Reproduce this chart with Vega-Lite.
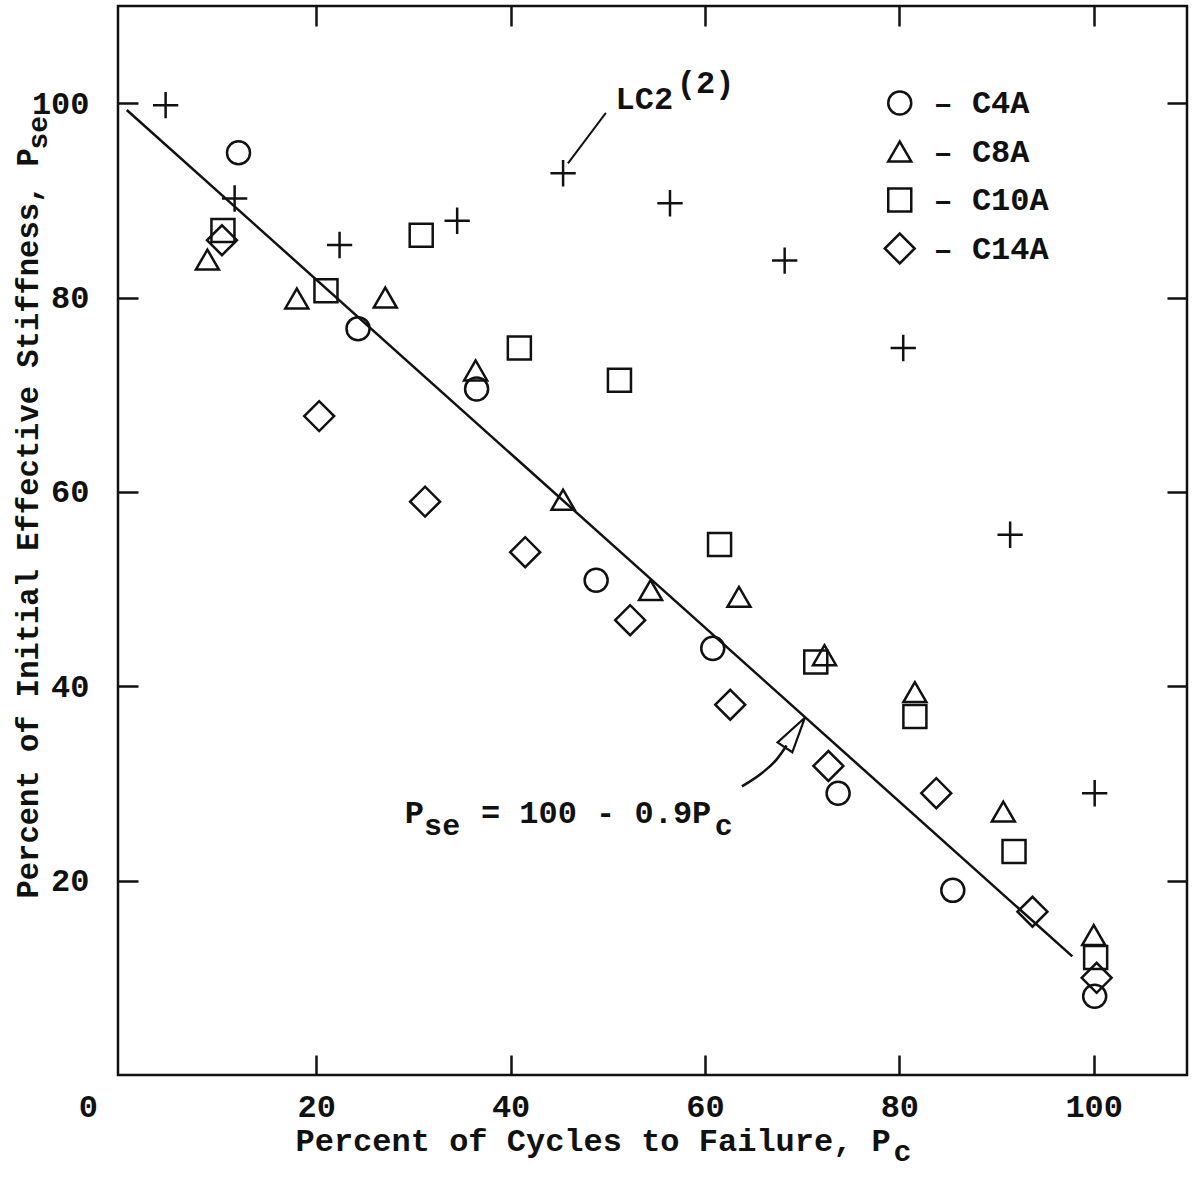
{
  "$schema": "https://vega.github.io/schema/vega-lite/v6.json",
  "width": 1069,
  "height": 1069,
  "autosize": {"type": "none"},
  "padding": {"left": 118, "top": 6, "right": 7, "bottom": 122},
  "background": "white",
  "datasets": {
    "specimens": [
      {"specimen": "C4A", "cycles": 12.0, "stiffness": 94.9},
      {"specimen": "C4A", "cycles": 24.3, "stiffness": 76.8},
      {"specimen": "C4A", "cycles": 36.5, "stiffness": 70.6},
      {"specimen": "C4A", "cycles": 48.8, "stiffness": 50.9},
      {"specimen": "C4A", "cycles": 60.8, "stiffness": 43.9},
      {"specimen": "C4A", "cycles": 73.7, "stiffness": 29.0},
      {"specimen": "C4A", "cycles": 85.5, "stiffness": 19.0},
      {"specimen": "C4A", "cycles": 100.1, "stiffness": 8.1},
      {"specimen": "C8A", "cycles": 8.8, "stiffness": 83.9},
      {"specimen": "C8A", "cycles": 18.0, "stiffness": 79.9},
      {"specimen": "C8A", "cycles": 27.1, "stiffness": 80.0},
      {"specimen": "C8A", "cycles": 36.4, "stiffness": 72.5},
      {"specimen": "C8A", "cycles": 45.4, "stiffness": 59.2},
      {"specimen": "C8A", "cycles": 54.4, "stiffness": 49.9},
      {"specimen": "C8A", "cycles": 63.5, "stiffness": 49.2},
      {"specimen": "C8A", "cycles": 72.3, "stiffness": 43.2},
      {"specimen": "C8A", "cycles": 81.6, "stiffness": 39.4},
      {"specimen": "C8A", "cycles": 90.7, "stiffness": 27.1},
      {"specimen": "C8A", "cycles": 100.0, "stiffness": 14.4},
      {"specimen": "C10A", "cycles": 10.4, "stiffness": 86.9},
      {"specimen": "C10A", "cycles": 21.0, "stiffness": 80.7},
      {"specimen": "C10A", "cycles": 30.8, "stiffness": 86.4},
      {"specimen": "C10A", "cycles": 40.9, "stiffness": 74.8},
      {"specimen": "C10A", "cycles": 51.2, "stiffness": 71.5},
      {"specimen": "C10A", "cycles": 61.5, "stiffness": 54.6},
      {"specimen": "C10A", "cycles": 71.4, "stiffness": 42.5},
      {"specimen": "C10A", "cycles": 81.6, "stiffness": 36.9},
      {"specimen": "C10A", "cycles": 91.8, "stiffness": 23.0},
      {"specimen": "C10A", "cycles": 100.2, "stiffness": 12.1},
      {"specimen": "C14A", "cycles": 10.3, "stiffness": 85.9},
      {"specimen": "C14A", "cycles": 20.3, "stiffness": 67.8},
      {"specimen": "C14A", "cycles": 31.2, "stiffness": 59.0},
      {"specimen": "C14A", "cycles": 41.5, "stiffness": 53.8},
      {"specimen": "C14A", "cycles": 52.3, "stiffness": 46.8},
      {"specimen": "C14A", "cycles": 62.6, "stiffness": 38.1},
      {"specimen": "C14A", "cycles": 72.7, "stiffness": 31.8},
      {"specimen": "C14A", "cycles": 83.8, "stiffness": 29.0},
      {"specimen": "C14A", "cycles": 93.7, "stiffness": 16.8},
      {"specimen": "C14A", "cycles": 100.3, "stiffness": 10.0}
    ],
    "lc2": [
      {"cycles": 4.5, "stiffness": 99.8},
      {"cycles": 11.6, "stiffness": 90.2},
      {"cycles": 22.4, "stiffness": 85.4},
      {"cycles": 34.5, "stiffness": 87.9},
      {"cycles": 45.4, "stiffness": 92.8},
      {"cycles": 56.4, "stiffness": 89.7},
      {"cycles": 68.2, "stiffness": 83.8},
      {"cycles": 80.4, "stiffness": 74.8},
      {"cycles": 91.4, "stiffness": 55.6},
      {"cycles": 100.1, "stiffness": 29.0}
    ],
    "fit": [
      {"cycles": 0.5, "stiffness": 99.3},
      {"cycles": 97.8, "stiffness": 12.2}
    ],
    "leader": [
      {"cycles": 49.8, "stiffness": 99.0},
      {"cycles": 45.9, "stiffness": 93.8}
    ],
    "arrow": [
      {"cycles": 63.8, "stiffness": 29.7},
      {"cycles": 65.9, "stiffness": 31.1},
      {"cycles": 67.4, "stiffness": 32.5},
      {"cycles": 68.4, "stiffness": 33.9}
    ],
    "one": [{}]
  },
  "config": {
    "view": {"stroke": "#111", "strokeWidth": 2.5},
    "font": "Liberation Mono",
    "axis": {
      "domain": false,
      "grid": false,
      "tickColor": "#111",
      "tickWidth": 2.5,
      "tickSize": -20,
      "labelFont": "Liberation Mono",
      "labelFontSize": 32,
      "labelFontWeight": "bold",
      "labelColor": "#111",
      "labelFlush": false,
      "labelOverlap": false,
      "labelBound": false,
      "titleFont": "Liberation Mono",
      "titleFontSize": 32,
      "titleFontWeight": "bold",
      "titleColor": "#111"
    },
    "legend": {"gridAlign": "all"},
    "text": {"font": "Liberation Mono", "fontSize": 32, "fontWeight": "bold", "color": "#111", "align": "left", "baseline": "alphabetic"}
  },
  "resolve": {"axis": {"x": "independent", "y": "independent"}},
  "layer": [
    {
      "data": {"name": "fit"},
      "mark": {"type": "line", "color": "#111", "strokeWidth": 2.5},
      "encoding": {
        "x": {
          "field": "cycles", "type": "quantitative",
          "scale": {"domain": [-0.4, 109.6], "nice": false, "zero": false},
          "axis": {
            "orient": "bottom", "values": [20, 40, 60, 80, 100], "labelPadding": 36.5,
            "title": "Percent of Cycles to Failure, P",
            "titleX": 177, "titleY": 75, "titleAlign": "left", "titleBaseline": "alphabetic", "titleAngle": 0
          }
        },
        "y": {
          "field": "stiffness", "type": "quantitative",
          "scale": {"domain": [0, 110], "nice": false, "zero": false},
          "axis": {
            "orient": "left", "values": [20, 40, 60, 80, 100], "labelPadding": 49,
            "title": "Percent of Initial Effective Stiffness, P",
            "titleX": -81, "titleY": 892, "titleAngle": 270, "titleAlign": "left", "titleBaseline": "alphabetic", "titleFontSize": 30.5
          }
        }
      }
    },
    {
      "data": {"name": "specimens"},
      "mark": {"type": "point", "filled": false, "size": 530, "strokeWidth": 2.5, "color": "#111", "opacity": 1},
      "encoding": {
        "x": {
          "field": "cycles", "type": "quantitative",
          "scale": {"domain": [-0.4, 109.6], "nice": false, "zero": false},
          "axis": {
            "orient": "top", "values": [20, 40, 60, 80, 100], "labels": false,
            "title": "c", "titleX": 775, "titleY": 1154, "titleAlign": "left", "titleBaseline": "alphabetic", "titleAngle": 0, "titleFontSize": 30
          }
        },
        "y": {
          "field": "stiffness", "type": "quantitative",
          "scale": {"domain": [0, 110], "nice": false, "zero": false},
          "axis": {
            "orient": "right", "values": [20, 40, 60, 80, 100], "labels": false,
            "title": "se", "titleX": -1141, "titleY": 143, "titleAngle": 270, "titleAlign": "left", "titleBaseline": "alphabetic", "titleFontSize": 28
          }
        },
        "shape": {
          "field": "specimen", "type": "nominal",
          "scale": {
            "domain": ["C4A", "C8A", "C10A", "C14A"],
            "range": ["circle", "triangle-up", "square", "M-1.3,0L0,-1.3L1.3,0L0,1.3Z"]
          },
          "legend": {
            "title": null,
            "orient": "none",
            "legendX": 765.75,
            "legendY": 81,
            "padding": 0,
            "labelExpr": "'– ' + datum.label",
            "symbolSize": 530,
            "symbolStrokeWidth": 2.5,
            "symbolStrokeColor": "#111",
            "symbolFillColor": "transparent",
            "labelFont": "Liberation Mono",
            "labelFontSize": 32,
            "labelFontWeight": "bold",
            "labelColor": "#111",
            "labelOffset": 17.75,
            "rowPadding": 8.5
          }
        }
      }
    },
    {
      "data": {"name": "lc2"},
      "mark": {"type": "point", "shape": "M-1.1,0H1.1M0,-1.15V1.15", "filled": false, "size": 530, "strokeWidth": 2.5, "color": "#111", "opacity": 1},
      "encoding": {
        "x": {
          "field": "cycles", "type": "quantitative",
          "scale": {"domain": [-0.4, 109.6], "nice": false, "zero": false},
          "axis": {"orient": "bottom", "values": [0], "ticks": false, "labelPadding": 16.5, "labelOffset": -34, "title": null}
        },
        "y": {
          "field": "stiffness", "type": "quantitative",
          "scale": {"domain": [0, 110], "nice": false, "zero": false},
          "axis": null
        }
      }
    },
    {
      "data": {"name": "leader"},
      "mark": {"type": "line", "color": "#111", "strokeWidth": 2},
      "encoding": {
        "x": {"field": "cycles", "type": "quantitative", "axis": null},
        "y": {"field": "stiffness", "type": "quantitative", "axis": null}
      }
    },
    {
      "data": {"name": "arrow"},
      "mark": {"type": "line", "color": "#111", "strokeWidth": 2.5, "interpolate": "monotone"},
      "encoding": {
        "x": {"field": "cycles", "type": "quantitative", "axis": null},
        "y": {"field": "stiffness", "type": "quantitative", "axis": null}
      }
    },
    {
      "data": {"name": "one"},
      "mark": {"type": "point", "shape": "M0,-1L0.5,1L-0.5,1Z", "filled": false, "size": 1267, "angle": 34, "strokeWidth": 2.2, "color": "#111", "opacity": 1},
      "encoding": {
        "x": {"datum": 69.25, "type": "quantitative", "axis": null},
        "y": {"datum": 35.24, "type": "quantitative", "axis": null}
      }
    },
    {
      "data": {"name": "one"},
      "mark": {"type": "text", "text": "LC2"},
      "encoding": {
        "x": {"datum": 50.8, "type": "quantitative", "axis": null},
        "y": {"datum": 99.4, "type": "quantitative", "axis": null}
      }
    },
    {
      "data": {"name": "one"},
      "mark": {"type": "text", "text": "(2)"},
      "encoding": {
        "x": {"datum": 57.1, "type": "quantitative", "axis": null},
        "y": {"datum": 101.0, "type": "quantitative", "axis": null}
      }
    },
    {
      "data": {"name": "one"},
      "mark": {"type": "text", "text": "P"},
      "encoding": {
        "x": {"datum": 29.1, "type": "quantitative", "axis": null},
        "y": {"datum": 25.96, "type": "quantitative", "axis": null}
      }
    },
    {
      "data": {"name": "one"},
      "mark": {"type": "text", "text": "se", "fontSize": 30},
      "encoding": {
        "x": {"datum": 31.1, "type": "quantitative", "axis": null},
        "y": {"datum": 24.73, "type": "quantitative", "axis": null}
      }
    },
    {
      "data": {"name": "one"},
      "mark": {"type": "text", "text": "= 100 - 0.9P"},
      "encoding": {
        "x": {"datum": 36.94, "type": "quantitative", "axis": null},
        "y": {"datum": 25.96, "type": "quantitative", "axis": null}
      }
    },
    {
      "data": {"name": "one"},
      "mark": {"type": "text", "text": "c", "fontSize": 30},
      "encoding": {
        "x": {"datum": 61.0, "type": "quantitative", "axis": null},
        "y": {"datum": 24.73, "type": "quantitative", "axis": null}
      }
    }
  ]
}
